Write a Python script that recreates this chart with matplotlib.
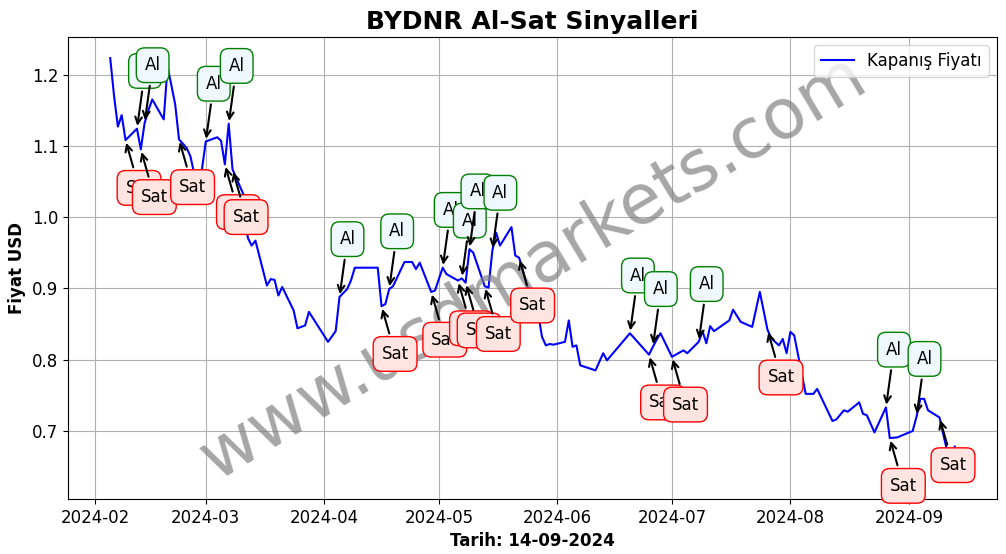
import matplotlib
matplotlib.use('Agg')
import matplotlib.pyplot as plt
import matplotlib.dates as mdates
import pandas as pd

plt.rcParams['font.size'] = 12

dates = [
    "2024-02-05", "2024-02-06", "2024-02-07", "2024-02-08", "2024-02-09",
    "2024-02-12", "2024-02-13", "2024-02-14", "2024-02-15", "2024-02-16",
    "2024-02-19", "2024-02-20", "2024-02-21", "2024-02-22", "2024-02-23",
    "2024-02-25", "2024-02-26", "2024-02-27", "2024-02-28", "2024-02-29",
    "2024-03-01", "2024-03-04", "2024-03-05", "2024-03-06", "2024-03-07",
    "2024-03-08", "2024-03-11", "2024-03-12", "2024-03-13", "2024-03-14",
    "2024-03-17", "2024-03-18", "2024-03-19", "2024-03-20", "2024-03-21",
    "2024-03-24", "2024-03-25", "2024-03-27", "2024-03-28", "2024-04-02",
    "2024-04-04", "2024-04-05", "2024-04-07", "2024-04-08", "2024-04-09",
    "2024-04-15", "2024-04-16", "2024-04-17", "2024-04-18", "2024-04-19",
    "2024-04-22", "2024-04-24", "2024-04-25", "2024-04-26", "2024-04-29",
    "2024-04-30", "2024-05-02", "2024-05-03", "2024-05-06", "2024-05-07",
    "2024-05-08", "2024-05-09", "2024-05-10", "2024-05-13", "2024-05-14",
    "2024-05-15", "2024-05-16", "2024-05-17", "2024-05-20", "2024-05-21",
    "2024-05-22", "2024-05-23", "2024-05-24", "2024-05-27", "2024-05-28",
    "2024-05-29", "2024-05-30", "2024-05-31", "2024-06-03", "2024-06-04",
    "2024-06-05", "2024-06-06", "2024-06-07", "2024-06-11", "2024-06-13",
    "2024-06-14", "2024-06-20", "2024-06-25", "2024-06-26", "2024-06-27",
    "2024-06-28", "2024-07-01", "2024-07-04", "2024-07-05", "2024-07-08",
    "2024-07-09", "2024-07-10", "2024-07-11", "2024-07-12", "2024-07-16",
    "2024-07-17", "2024-07-19", "2024-07-22", "2024-07-24", "2024-07-26",
    "2024-07-27", "2024-07-29", "2024-07-30", "2024-07-31", "2024-08-01",
    "2024-08-02", "2024-08-05", "2024-08-07", "2024-08-08", "2024-08-12",
    "2024-08-13", "2024-08-15", "2024-08-16", "2024-08-19", "2024-08-20",
    "2024-08-21", "2024-08-23", "2024-08-26", "2024-08-27", "2024-08-29",
    "2024-09-02", "2024-09-03", "2024-09-04", "2024-09-05", "2024-09-06",
    "2024-09-09", "2024-09-11", "2024-09-12", "2024-09-13",
]
prices = [
    1.223, 1.170, 1.127, 1.143, 1.108,
    1.124, 1.095, 1.132, 1.150, 1.165,
    1.137, 1.211, 1.185, 1.158, 1.109,
    1.097, 1.085, 1.060, 1.062, 1.067,
    1.106, 1.112, 1.107, 1.074, 1.131,
    1.067, 1.030, 0.971, 0.960, 0.967,
    0.904, 0.913, 0.912, 0.890, 0.902,
    0.869, 0.844, 0.848, 0.867, 0.825,
    0.840, 0.888, 0.899, 0.911, 0.929,
    0.929, 0.875, 0.878, 0.899, 0.903,
    0.937, 0.937, 0.927, 0.936, 0.895,
    0.897, 0.929, 0.920, 0.911, 0.914,
    0.908, 0.955, 0.950, 0.903, 0.901,
    0.953, 0.978, 0.960, 0.986, 0.946,
    0.943, 0.925, 0.905, 0.864, 0.832,
    0.820, 0.822, 0.821, 0.825, 0.855,
    0.818, 0.820, 0.792, 0.785, 0.809,
    0.799, 0.837, 0.807, 0.818, 0.828,
    0.837, 0.804, 0.813, 0.809, 0.825,
    0.840, 0.823, 0.847, 0.840, 0.855,
    0.870, 0.853, 0.846, 0.895, 0.842,
    0.830, 0.820, 0.829, 0.809, 0.839,
    0.834, 0.752, 0.752, 0.759, 0.714,
    0.716, 0.729, 0.727, 0.740, 0.724,
    0.722, 0.698, 0.733, 0.690, 0.691,
    0.700, 0.720, 0.745, 0.745, 0.729,
    0.719, 0.672, 0.634, 0.678,
]

al_dates = ["2024-02-12", "2024-02-14", "2024-03-01", "2024-03-07", "2024-04-05",
            "2024-04-18", "2024-05-02", "2024-05-07", "2024-05-09", "2024-05-15",
            "2024-06-20", "2024-06-26", "2024-07-08", "2024-08-26", "2024-09-03"]
sat_dates = ["2024-02-09", "2024-02-13", "2024-02-23", "2024-03-06", "2024-03-08",
             "2024-04-16", "2024-04-29", "2024-05-06", "2024-05-08", "2024-05-13",
             "2024-05-22", "2024-06-25", "2024-07-01", "2024-07-26", "2024-08-27",
             "2024-09-09"]

df = pd.DataFrame({'date': pd.to_datetime(dates), 'price': prices}).set_index('date')

fig, ax = plt.subplots(figsize=(10.06, 5.54), dpi=100)
fig.subplots_adjust(left=0.0676, right=0.991, top=0.933, bottom=0.0993)

# filigran
ax.text(0.5, 0.5, 'www.usdmarkets.com', transform=ax.transAxes, fontsize=50,
        color='gray', alpha=0.7, rotation=31, ha='center', va='center')

ax.plot(df.index, df['price'], color='blue', lw=1.5, label='Kapanış Fiyatı')

for d in al_dates:
    t = pd.Timestamp(d)
    ax.annotate('Al', xy=(t, df.loc[t, 'price']), xytext=(0, 38), textcoords='offset points',
                arrowprops=dict(arrowstyle='->', color='black', lw=1.5),
                bbox=dict(boxstyle='round,pad=0.5', fc='aliceblue', ec='green'))

for d in sat_dates:
    t = pd.Timestamp(d)
    ax.annotate('Sat', xy=(t, df.loc[t, 'price']), xytext=(0, -38), textcoords='offset points',
                arrowprops=dict(arrowstyle='->', color='black', lw=1.5),
                bbox=dict(boxstyle='round,pad=0.5', fc='mistyrose', ec='red'))

ax.xaxis.set_major_locator(mdates.MonthLocator())
ax.xaxis.set_major_formatter(mdates.DateFormatter('%Y-%m'))
ax.set_title('BYDNR Al-Sat Sinyalleri', fontsize=18, fontweight='bold')
ax.set_xlabel('Tarih: 14-09-2024', fontweight='bold')
ax.set_ylabel('Fiyat USD', fontweight='bold')
ax.grid(True)
ax.legend(loc='upper right')

plt.savefig('out.png')
